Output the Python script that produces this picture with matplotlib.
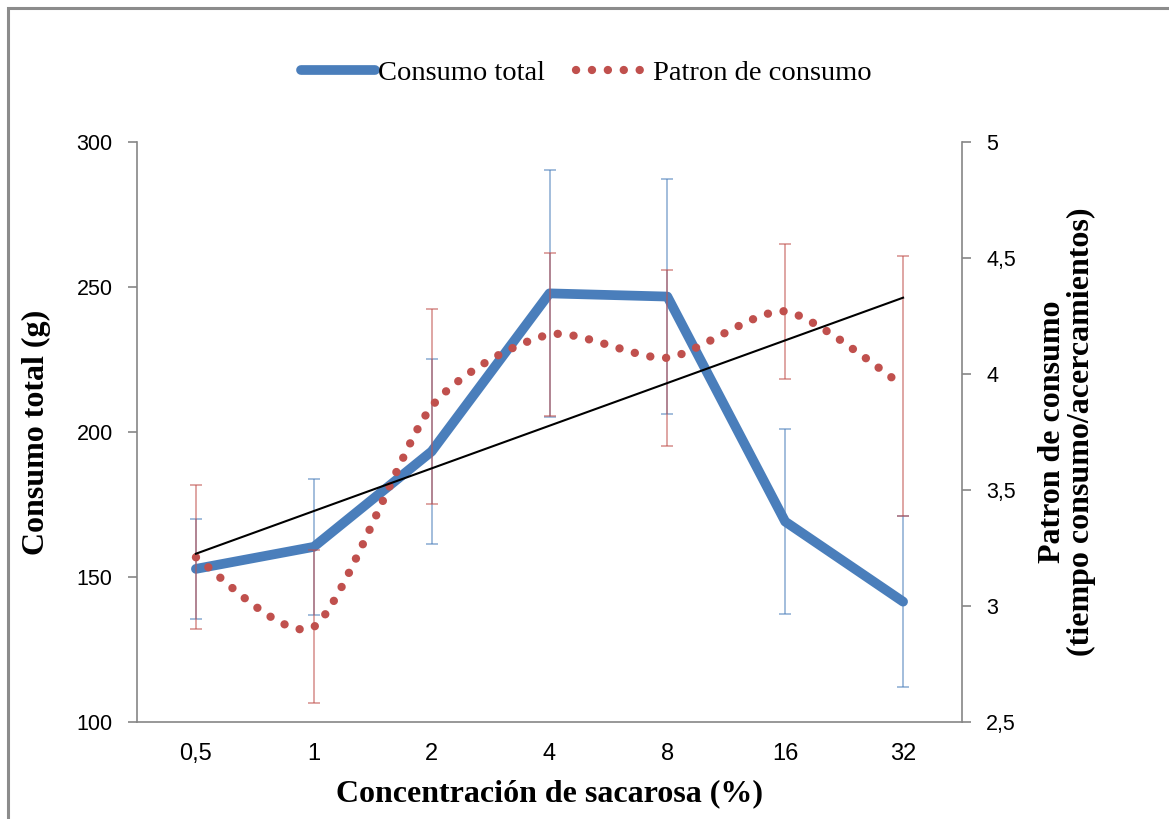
import numpy as np
import matplotlib
matplotlib.use('Agg')
from matplotlib import pyplot as plt
from matplotlib.path import Path
from matplotlib.patches import PathPatch, Rectangle
from matplotlib.lines import Line2D

categories = ['0,5', '1', '2', '4', '8', '16', '32']
consumo_total = [152.8, 160.4, 193.3, 247.8, 246.7, 169.1, 141.5]
consumo_err = [17.2, 23.4, 32.0, 42.7, 40.6, 32.0, 29.6]
patron = [3.21, 2.91, 3.86, 4.17, 4.07, 4.27, 3.95]
patron_err = [0.31, 0.33, 0.42, 0.35, 0.38, 0.29, 0.56]

blue = '#4a7ebb'
red = '#c0504d'
grey = '#868686'
serif = ['Liberation Serif', 'DejaVu Serif']
dots = (0, (0.01, 1.9))

fig = plt.figure(figsize=(11.69, 8.19), dpi=100)
ax = fig.add_axes([137 / 1169, 1 - 722 / 819, 825 / 1169, 580 / 819])
ax2 = ax.twinx()

x = np.arange(len(categories))

# consumo total, left axis
ax.plot(x, consumo_total, color=blue, lw=7, solid_joinstyle='round',
        solid_capstyle='round', zorder=3)
ax.errorbar(x, consumo_total, yerr=consumo_err, fmt='none', ecolor=blue,
            alpha=0.6, elinewidth=1.2, capsize=4.5, capthick=1.2, zorder=4)

# patron de consumo, right axis, smoothed curve through the points
pts = np.column_stack([x, patron]).astype(float)
ext = np.vstack([pts[0], pts, pts[-1]])
verts = [tuple(pts[0])]
codes = [Path.MOVETO]
t = 0.12
for i in range(len(pts) - 1):
    p0, p1, p2, p3 = ext[i], ext[i + 1], ext[i + 2], ext[i + 3]
    c1 = p1 + (p2 - p0) * t
    c2 = p2 - (p3 - p1) * t
    verts += [tuple(c1), tuple(c2), tuple(p2)]
    codes += [Path.CURVE4] * 3
curve = PathPatch(Path(verts, codes), fill=False, edgecolor=red, lw=6,
                  linestyle=dots, capstyle='round', zorder=3)
ax2.add_patch(curve)
ax2.errorbar(x, patron, yerr=patron_err, fmt='none', ecolor=red,
             alpha=0.6, elinewidth=1.2, capsize=4.5, capthick=1.2, zorder=4)

# linear trend of patron
k, b = np.polyfit(x, patron, 1)
ax2.plot([x[0], x[-1]], [k * x[0] + b, k * x[-1] + b], color='black', lw=1.5, zorder=5)

ax.set_xlim(-0.5, 6.5)
ax.set_ylim(100, 300)
ax2.set_ylim(2.5, 5)
ax.set_yticks([100, 150, 200, 250, 300])
ax2.set_yticks([2.5, 3, 3.5, 4, 4.5, 5])
ax2.set_yticklabels(['2,5', '3', '3,5', '4', '4,5', '5'])
ax.set_xticks(x)
ax.set_xticklabels(categories, family=['Liberation Sans Narrow', 'Liberation Sans'], fontsize=17)

for a in (ax, ax2):
    a.spines['top'].set_visible(False)
    for s in a.spines.values():
        s.set_color(grey)
        s.set_linewidth(1.2)
ax.spines['right'].set_visible(False)
ax2.spines['left'].set_visible(False)
ax2.spines['bottom'].set_visible(False)

ax.tick_params(axis='y', length=6.5, width=1.2, color=grey, pad=11, labelsize=15.5)
ax2.tick_params(axis='y', length=6.5, width=1.2, color=grey, pad=11, labelsize=15.5)
ax.tick_params(axis='x', length=0, pad=15)
for lab in ax.get_yticklabels() + ax2.get_yticklabels():
    lab.set_family(['Liberation Sans', 'DejaVu Sans'])

ax.set_xlabel('Concentración de sacarosa (%)', family=serif, fontsize=23,
              fontweight='bold', labelpad=10)
ax.set_ylabel('Consumo total (g)', family=serif, fontsize=23, fontweight='bold',
              labelpad=18)
ax2.set_ylabel('Patron de consumo\n(tiempo consumo/acercamientos)', family=serif,
               fontsize=23, fontweight='bold', labelpad=16, rotation=90,
               linespacing=1.0)

handles = [Line2D([], [], color=blue, lw=7, solid_capstyle='round'),
           Line2D([], [], color=red, lw=6, linestyle=dots, dash_capstyle='round')]
fig.legend(handles, ['Consumo total', 'Patron de consumo'], loc='center',
           bbox_to_anchor=(586 / 1169, 1 - 73 / 819), ncol=2, frameon=False,
           prop={'family': serif, 'size': 20.5}, handlelength=2.6,
           handletextpad=0.1, columnspacing=1.1)

# outer chart frame
fig.add_artist(Rectangle((8 / 1169, -0.2), 1.2, 1.2 - 8 / 819, transform=fig.transFigure,
                         fill=False, edgecolor='#8c8c8c', lw=2.2, clip_on=False))

fig.savefig('out.png', dpi=100, facecolor='white')
